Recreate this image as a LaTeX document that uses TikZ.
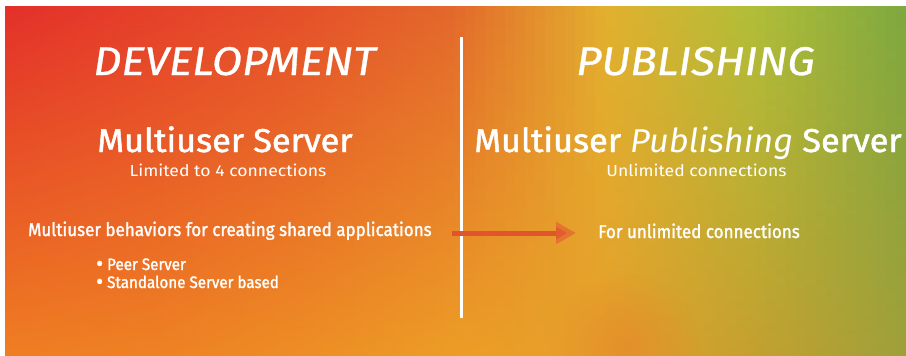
\documentclass[tikz,border=0pt]{standalone}
\usepackage{fontspec}
\setmainfont{Fira Sans}
\newfontfamily\titlefont{Fira Sans}[FakeStretch=1.1, FakeBold=0.8]
\newfontfamily\serverfont{Fira Sans}[FakeStretch=1.04, FakeBold=1.5]
\newfontfamily\pubfont{Fira Sans}[FakeStretch=1.04]
\newfontfamily\subfont{Fira Sans}[FakeStretch=1.1]
\newfontfamily\bodyfont{Fira Sans}[FakeStretch=0.92, FakeBold=1.5]
\usetikzlibrary{arrows.meta,fadings}
% gradient key colours (top / middle / bottom) at x = 5,155,...,905
\definecolor{Ta}{HTML}{E3302A}\definecolor{Ma}{HTML}{EC6C25}\definecolor{Ba}{HTML}{EF7E22}
\definecolor{Tb}{HTML}{E5402A}\definecolor{Mb}{HTML}{EB6927}\definecolor{Bb}{HTML}{EE8223}
\definecolor{Tc}{HTML}{E5502A}\definecolor{Mc}{HTML}{EA7028}\definecolor{Bc}{HTML}{ED8E24}
\definecolor{Td}{HTML}{E3682B}\definecolor{Md}{HTML}{EB8A28}\definecolor{Bd}{HTML}{EC9D26}
\definecolor{Te}{HTML}{E2B02E}\definecolor{Me}{HTML}{DDA42C}\definecolor{Be}{HTML}{E5A02A}
\definecolor{Tf}{HTML}{B0BE38}\definecolor{Mf}{HTML}{B0A234}\definecolor{Bf}{HTML}{C4A02F}
\definecolor{Tg}{HTML}{7EA83F}\definecolor{Mg}{HTML}{8CA43C}\definecolor{Bg}{HTML}{9FA03A}
\definecolor{patchorange}{HTML}{E5882A}
\definecolor{arrowred}{HTML}{E2542E}
\definecolor{arrowhead}{HTML}{E4742F}
\tikzfading[name=softdot, inner color=transparent!35, outer color=transparent!100]
\tikzset{
  txt/.style={text=white, inner sep=0pt},
  bigtitle/.style={txt, anchor=base, font=\titlefont\itshape\fontsize{40}{40}\selectfont},
  server/.style={txt, anchor=base, font=\serverfont\fontsize{33}{33}\selectfont},
  subline/.style={txt, anchor=base, font=\subfont\fontsize{16}{16}\selectfont},
  body/.style={txt, anchor=base west, font=\bodyfont\fontsize{18.5}{18.5}\selectfont},
  bulletlist/.style={txt, anchor=base west, align=left, font=\bodyfont\fontsize{16.5}{18}\selectfont},
  divider/.style={draw=white, line width=2.5pt},
  flow/.style={draw=arrowred, line width=5pt, -{Triangle[length=20pt,width=21pt,color=arrowhead]}},
  headcore/.style={fill=arrowred, opacity=0.7}
}
\newcommand{\pickletter}[1]{\ifcase#1 a\or b\or c\or d\or e\or f\or g\fi}
\newcommand{\bigbul}{\raisebox{-0.08em}{\scalebox{1.4}{\textbullet}}}
\begin{document}
\begin{tikzpicture}[x=1pt,y=-1pt]
\useasboundingbox (0,0) rectangle (906,356);
\fill[white] (0,0) rectangle (906,356);
% background gradient built from vertical strips
\foreach \i in {0,...,89}{
  \pgfmathsetmacro\xa{5+\i*10.0111}
  \pgfmathsetmacro\xb{\xa+10.6}
  \pgfmathsetmacro\xc{\xa+5}
  \pgfmathtruncatemacro\k{min(5,floor((\xc-5)/150))}
  \pgfmathtruncatemacro\kk{\k+1}
  \pgfmathtruncatemacro\p{100-round(((\xc-5)-150*\k)/150*100)}
  \edef\la{\pickletter{\k}}\edef\lb{\pickletter{\kk}}
  \colorlet{tcol}{T\la!\p!T\lb}
  \colorlet{mcol}{M\la!\p!M\lb}
  \colorlet{bcol}{B\la!\p!B\lb}
  \shade[top color=tcol, middle color=mcol, bottom color=bcol] (\xa,6) rectangle ({min(\xb,906)},356);
}
% soft orange patch near the bottom
\begin{scope}
\clip (5,6) rectangle (906,356);
\fill[patchorange, path fading=softdot] (625,345) circle (75);
\end{scope}
% divider
\coordinate (divtop) at (461.5,37);
\coordinate (divbot) at (461.5,318);
\draw[divider] (divtop) -- (divbot);
% titles
\node[bigtitle] (dev) at (234.5,75) {DEVELOPMENT};
\node[bigtitle] (pub) at (695.5,75) {PUBLISHING};
\node[server] (ms) at (225,152) {Multiuser Server};
\node[subline] (lim) at (228,176) {Limited to 4 connections};
\node[server] (mps) at (688,152) {Multiuser {\pubfont\itshape Publishing} Server};
\node[subline] (unl) at (696.5,176) {Unlimited connections};
% body
\node[body] (beh) at (28,236) {Multiuser behaviors for creating shared applications};
\node[bulletlist] (bl) at (96,288) {\bigbul\ Peer Server\\ \bigbul\ Standalone Server based};
\node[body] (fuc) at (598,238) {For unlimited connections};
% arrow
\coordinate (arrs) at (452,233);
\coordinate (arre) at (576,233);
\draw[flow] (arrs) -- (arre);
\fill[headcore] (556,226.5) -- (567,233) -- (556,239.5) -- cycle;
\end{tikzpicture}
\end{document}
